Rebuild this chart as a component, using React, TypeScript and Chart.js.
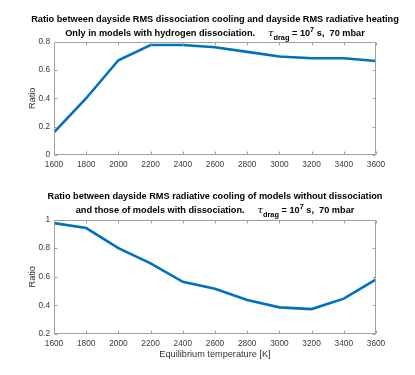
import React, { useEffect, useRef } from 'react';
import { Chart, registerables } from 'chart.js';

Chart.register(...registerables);

// ---- data ----
const temperatures = [1600, 1800, 2000, 2200, 2400, 2600, 2800, 3000, 3200, 3400, 3600];
const dissociationCoolingRatio = [0.16, 0.40, 0.668, 0.775, 0.775, 0.76, 0.727, 0.694, 0.682, 0.682, 0.663];
const radiativeCoolingRatio = [0.975, 0.94, 0.80, 0.693, 0.565, 0.516, 0.437, 0.386, 0.374, 0.447, 0.581];
const topTitleLine1 = 'Ratio between dayside RMS dissociation cooling and dayside RMS radiative heating';
const topTitleLine2 = 'Only in models with hydrogen dissociation.';
const bottomTitleLine1 = 'Ratio between dayside RMS radiative cooling of models without dissociation';
const bottomTitleLine2 = 'and those of models with dissociation.';
const yAxisLabel = 'Ratio';
const xAxisLabel = 'Equilibrium temperature [K]';

const FONT = '"Liberation Sans", Arial, Helvetica, sans-serif';
const LINE_COLOR = '#0072BD';
const AXIS_COLOR = '#a0a0a0';
const TICK_TEXT = '#3a3a3a';

type Seg = { t: string; mode?: 'sub' | 'sup'; greek?: boolean };

function tauSegments(prefix: string): Seg[] {
  return [
    { t: prefix + '     ' },
    { t: 'τ', greek: true },
    { t: 'drag', mode: 'sub' },
    { t: ' = 10' },
    { t: '7', mode: 'sup' },
    { t: ' s,  70 mbar' },
  ];
}

function segFont(s: Seg) {
  if (s.greek) return `italic 10px "DejaVu Serif", serif`;
  if (s.mode) return `bold 7.4px ${FONT}`;
  return `bold 9.2px ${FONT}`;
}

const richTitlePlugin = {
  id: 'richTitle',
  afterDraw(chart: any, _args: any, opts: any) {
    const { ctx, chartArea } = chart;
    const cx = (chartArea.left + chartArea.right) / 2;
    ctx.save();
    ctx.fillStyle = '#000';
    ctx.textBaseline = 'alphabetic';
    ctx.textAlign = 'left';
    (opts.lines as Seg[][]).forEach((segs, i) => {
      const baseY = opts.baselines[i];
      let total = 0;
      const widths = segs.map((s) => {
        ctx.font = segFont(s);
        const w = ctx.measureText(s.t).width;
        total += w;
        return w;
      });
      let x = cx - total / 2;
      segs.forEach((s, k) => {
        ctx.font = segFont(s);
        let dy = 0;
        if (s.mode === 'sub') dy = 4;
        if (s.mode === 'sup') dy = -4;
        ctx.fillText(s.t, x, baseY + dy);
        x += widths[k];
      });
    });
    ctx.restore();
  },
};

const boxTicksPlugin = {
  id: 'boxTicks',
  afterDraw(chart: any) {
    const { ctx, chartArea: a, scales } = chart;
    const xs = scales.x;
    const ys = scales.y;
    const L = Math.round(a.left) + 0.5;
    const R = Math.round(a.right) - 0.5;
    const T = Math.round(a.top) + 0.5;
    const B = Math.round(a.bottom) - 0.5;
    const len = 3;
    ctx.save();
    ctx.strokeStyle = AXIS_COLOR;
    ctx.lineWidth = 1;
    ctx.beginPath();
    ctx.rect(L, T, R - L, B - T);
    xs.ticks.forEach((tk: any) => {
      const px = Math.round(xs.getPixelForValue(tk.value)) + 0.5;
      ctx.moveTo(px, B);
      ctx.lineTo(px, B - len);
      ctx.moveTo(px, T);
      ctx.lineTo(px, T + len);
    });
    ys.ticks.forEach((tk: any) => {
      const py = Math.round(ys.getPixelForValue(tk.value)) + 0.5;
      ctx.moveTo(L, py);
      ctx.lineTo(L + len, py);
      ctx.moveTo(R, py);
      ctx.lineTo(R - len, py);
    });
    ctx.stroke();
    ctx.restore();
  },
};

function makeConfig(opts: {
  values: number[];
  yMin: number;
  yMax: number;
  padTop: number;
  xAxisHeight: number;
  showXTitle: boolean;
  titleLines: Seg[][];
  baselines: number[];
}): any {
  return {
    type: 'line',
    data: {
      labels: temperatures,
      datasets: [
        {
          data: temperatures.map((t, i) => ({ x: t, y: opts.values[i] })),
          borderColor: LINE_COLOR,
          borderWidth: 2.6,
          pointRadius: 0,
          tension: 0,
          fill: false,
        },
      ],
    },
    options: {
      responsive: false,
      animation: false,
      layout: { padding: { top: opts.padTop, right: 39, left: 0, bottom: 0 } },
      plugins: {
        legend: { display: false },
        tooltip: { enabled: false },
        title: { display: false },
        richTitle: { lines: opts.titleLines, baselines: opts.baselines },
      },
      scales: {
        x: {
          type: 'linear',
          min: 1600,
          max: 3600,
          grid: { display: false, drawTicks: false },
          border: { display: false },
          ticks: {
            stepSize: 200,
            padding: 5,
            color: TICK_TEXT,
            maxRotation: 0,
            autoSkip: false,
            font: { family: FONT, size: 8.3 },
            callback: (v: number) => String(v),
          },
          title: {
            display: opts.showXTitle,
            text: xAxisLabel,
            color: '#333',
            font: { family: FONT, size: 9.2 },
            padding: { top: 0, bottom: 15.3 },
          },
          afterFit: (s: any) => {
            s.height = opts.xAxisHeight;
          },
        },
        y: {
          type: 'linear',
          min: opts.yMin,
          max: opts.yMax,
          grid: { display: false, drawTicks: false },
          border: { display: false },
          ticks: {
            stepSize: 0.2,
            padding: 4,
            color: TICK_TEXT,
            font: { family: FONT, size: 8.3 },
            callback: (v: number) => String(Math.round(v * 10) / 10),
          },
          title: {
            display: true,
            text: yAxisLabel,
            color: '#333',
            font: { family: FONT, size: 9.2 },
            padding: { top: 27, bottom: 0 },
          },
          afterFit: (s: any) => {
            s.width = 54;
          },
        },
      },
    },
    plugins: [boxTicksPlugin, richTitlePlugin],
  };
}

export default function App() {
  const topRef = useRef<HTMLCanvasElement | null>(null);
  const bottomRef = useRef<HTMLCanvasElement | null>(null);

  useEffect(() => {
    const c1 = new Chart(
      topRef.current as HTMLCanvasElement,
      makeConfig({
        values: dissociationCoolingRatio,
        yMin: 0,
        yMax: 0.8,
        padTop: 41.5,
        xAxisHeight: 32,
        showXTitle: false,
        titleLines: [[{ t: topTitleLine1 }], tauSegments(topTitleLine2)],
        baselines: [21.5, 35.5],
      })
    );
    const c2 = new Chart(
      bottomRef.current as HTMLCanvasElement,
      makeConfig({
        values: radiativeCoolingRatio,
        yMin: 0.2,
        yMax: 1,
        padTop: 32.5,
        xAxisHeight: 41,
        showXTitle: true,
        titleLines: [[{ t: bottomTitleLine1 }], tauSegments(bottomTitleLine2)],
        baselines: [12, 25.5],
      })
    );
    return () => {
      c1.destroy();
      c2.destroy();
    };
  }, []);

  return (
    <div style={{ position: 'absolute', left: 0, top: 0, width: 415, height: 375, background: '#fff' }}>
      <canvas ref={topRef} width={415} height={187} style={{ position: 'absolute', left: 0, top: 0 }} />
      <canvas ref={bottomRef} width={415} height={188} style={{ position: 'absolute', left: 0, top: 187 }} />
    </div>
  );
}
